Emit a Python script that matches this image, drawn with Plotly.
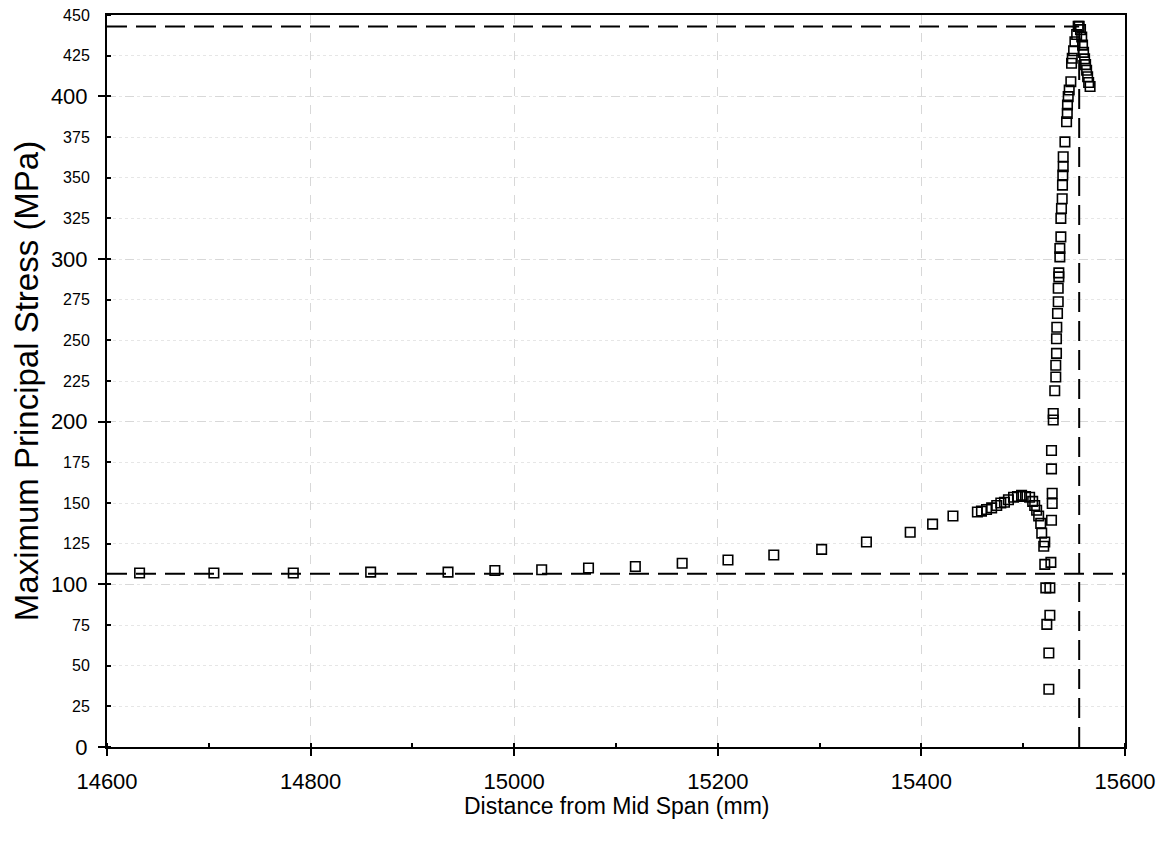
import plotly.graph_objects as go

# ---- data ----
distance_mm = [
    14632, 14705, 14783, 14859, 14935, 14981, 15027, 15073, 15119, 15165,
    15210, 15255, 15302, 15346, 15389, 15411, 15431, 15455,
    15459, 15464, 15469, 15474, 15478, 15481.6, 15485.5, 15490.5, 15494.4,
    15498.4, 15502.3, 15506.3, 15509.3, 15511.3, 15513.2, 15515.2, 15517.2,
    15518.2, 15520.2, 15521.2, 15521.2, 15522.2, 15526.2, 15526.2, 15523.2,
    15525.2, 15525.2,
    15527.2, 15527.8, 15528.5, 15528.5, 15527.8, 15527.8, 15529.5, 15529.5,
    15531, 15532, 15532, 15532.7, 15532.7, 15533, 15533.7, 15534.4, 15534.4,
    15535, 15535, 15536, 15536, 15537, 15537, 15537.6, 15538.3, 15538.6,
    15538.9, 15539.3, 15539.3, 15541, 15542.6, 15543.3, 15543.5, 15544.2,
    15545.2, 15546.8, 15547.5, 15548.2, 15549.5, 15550.8, 15552.5, 15554,
    15555, 15556.3, 15557.5, 15558.3, 15559.3, 15560.3, 15561.3, 15562.3,
    15563.3, 15564.3, 15565.7,
]
stress_mpa = [
    107, 107, 107, 107.5, 107.5, 108.5, 109, 110, 111, 113,
    115, 118, 121.5, 126, 132, 137, 142, 144.5,
    145, 146, 147, 148.5, 150, 150.5, 152, 153.5, 154,
    154.7, 154, 153.5, 151, 148.5, 145.5, 142, 137.5,
    131.5, 123.4, 112.3, 126, 97.8, 97.8, 81, 75.4,
    57.8, 35.5,
    113.5, 139.4, 149.7, 156, 171, 182.3, 201, 205,
    219, 227.5, 234.7, 242, 251, 258, 266.5, 273.7, 282,
    289, 291.5, 301.3, 306.5, 313.6, 325, 331, 337, 345.4,
    351.6, 356.7, 362.9, 372, 384.4, 389.5, 394.7, 399.8,
    403.9, 409, 420.3, 423.4, 428, 433.6, 438, 443,
    443, 441, 436.5, 431.5, 427, 423, 419.5, 416,
    412, 408.5, 406,
]

# reference dashed lines
baseline_stress = 106.5
peak_stress = 443
peak_distance = 15555

# axes
x_range = [14600, 15600]
y_range = [0, 450]
x_ticks = [14600, 14800, 15000, 15200, 15400, 15600]
y_major_ticks = [0, 100, 200, 300, 400]
y_minor_labels = [25, 50, 75, 125, 150, 175, 225, 250, 275, 325, 350, 375, 425, 450]

x_title = "Distance from Mid Span (mm)"
y_title = "Maximum Principal Stress (MPa)"

FONT = "Liberation Sans, Arial, sans-serif"

fig = go.Figure()
fig.add_trace(go.Scatter(
    x=distance_mm, y=stress_mpa, mode="markers",
    marker=dict(symbol="square-open", size=9.5, color="black",
                line=dict(width=1.6, color="black")),
    showlegend=False, hoverinfo="x+y",
))
# invisible trace to carry the secondary (small-label) y axis
fig.add_trace(go.Scatter(
    x=[distance_mm[0]], y=[stress_mpa[0]], yaxis="y2", mode="markers",
    marker=dict(opacity=0), showlegend=False, hoverinfo="skip",
))

line_style = dict(color="black", width=2, dash="20px,9px")
fig.add_shape(type="line", xref="x", yref="y", x0=x_range[0], x1=x_range[1],
              y0=baseline_stress, y1=baseline_stress, line=line_style)
fig.add_shape(type="line", xref="x", yref="y", x0=x_range[0], x1=peak_distance,
              y0=peak_stress, y1=peak_stress, line=line_style)
fig.add_shape(type="line", xref="x", yref="y", x0=peak_distance, x1=peak_distance,
              y0=y_range[0], y1=peak_stress, line=line_style)

fig.add_annotation(text=x_title, xref="paper", yref="paper", x=0.5, y=-0.081,
                   xanchor="center", yanchor="middle", showarrow=False,
                   font=dict(size=23, family=FONT, color="black"))

grid_col = "#d8d8d8"
fig.update_layout(
    width=1167, height=844,
    margin=dict(l=99, r=50, t=7, b=105),
    plot_bgcolor="white", paper_bgcolor="white",
    font=dict(family=FONT, color="black"),
    xaxis=dict(
        range=x_range, tickvals=x_ticks, ticktext=[str(v) for v in x_ticks],
        ticks="outside", ticklen=7, tickwidth=1.5, tickcolor="black",
        ticklabelstandoff=7, ticklabeloverflow="allow",
        showline=True, linecolor="black", linewidth=2, mirror=True,
        showgrid=True, gridcolor=grid_col, griddash="dash", gridwidth=1,
        zeroline=False, automargin=False,
        tickfont=dict(size=22, family=FONT),
        minor=dict(dtick=100, ticks="inside", ticklen=4, tickcolor="black",
                   showgrid=False),
    ),
    yaxis=dict(
        range=y_range, tickvals=y_major_ticks, ticktext=[str(v) for v in y_major_ticks],
        ticks="outside", ticklen=7, tickwidth=1.5, tickcolor="black",
        ticklabelstandoff=6, ticklabeloverflow="allow",
        showline=True, linecolor="black", linewidth=2, mirror=True,
        showgrid=True, gridcolor=grid_col, griddash="dash", gridwidth=1,
        zeroline=False, automargin=False,
        tickfont=dict(size=22, family=FONT),
        minor=dict(dtick=25, tick0=0, ticks="inside", ticklen=4, tickcolor="black",
                   showgrid=True, gridcolor="#e6e6e6", griddash="dot", gridwidth=1),
        title=dict(text=y_title, font=dict(size=33, family=FONT), standoff=14),
    ),
    yaxis2=dict(
        range=y_range, overlaying="y", side="left", anchor="x",
        tickvals=y_minor_labels, ticktext=[str(v) for v in y_minor_labels],
        ticks="outside", ticklen=7, tickcolor="rgba(0,0,0,0)",
        ticklabelstandoff=6, ticklabeloverflow="allow",
        showline=False, showgrid=False, zeroline=False, automargin=False,
        tickfont=dict(size=16, family=FONT),
    ),
)

fig.write_html("out.html")
